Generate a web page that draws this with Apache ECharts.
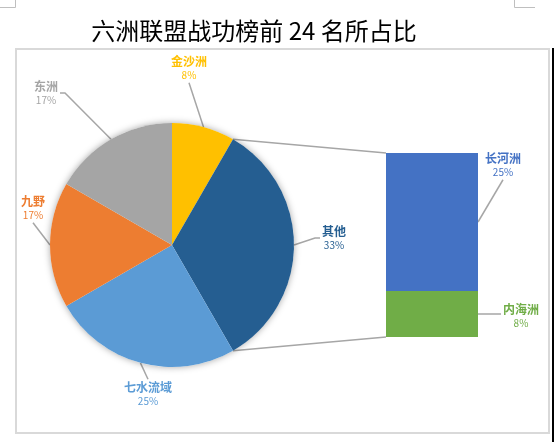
<!DOCTYPE html>
<html><head><meta charset="utf-8">
<script src="https://cdn.jsdelivr.net/npm/echarts@6/dist/echarts.min.js"></script>
<style>html,body{margin:0;padding:0;background:#fff;overflow:hidden}#c{width:554px;height:442px}</style>
</head><body><div id="c"></div>
<script>
const chartTitle = '六洲联盟战功榜前 24 名所占比';
const pieNames = ['金沙洲', '其他', '七水流域', '九野', '东洲'];
const pieValues = [2, 8, 6, 4, 4];
const pieColors = ['#FFC000', '#255E91', '#5B9BD5', '#ED7D31', '#A5A5A5'];
const barNames = ['长河洲', '内海洲'];
const barValues = [6, 2];
const barColors = ['#4472C4', '#70AD47'];
const total = pieValues.reduce((a, b) => a + b, 0);

const FONT = '"Noto Sans CJK SC", "Noto Sans", sans-serif';
const pieCenter = [172, 245], pieRadius = 122;
const guideColor = '#A6A6A6';
const pieLabelPlace = [
  {x: 189, y: 68, side: 'bottom'},
  {x: 334, y: 238, side: 'left'},
  {x: 148, y: 394, side: 'top'},
  {x: 33, y: 208, side: 'bottom'},
  {x: 46, y: 93, side: 'right'}
];
const barLabelPlace = [
  {x: 503, y: 165, side: 'bottom'},
  {x: 521, y: 316, side: 'left'}
];
const pct = v => Math.round(v / total * 100) + '%';
const rich = {
  n: {fontFamily: FONT, fontSize: 12, fontWeight: 'bold', lineHeight: 15},
  v: {fontFamily: FONT, fontSize: 10, lineHeight: 14}
};
function anchorOf(place, w, h, gap) {
  switch (place.side) {
    case 'bottom': return [place.x, place.y + h / 2 + gap];
    case 'top': return [place.x, place.y - h / 2 - gap];
    case 'left': return [place.x - w / 2 - gap, place.y];
    default: return [place.x + w / 2 + gap, place.y];
  }
}
const barGeom = {};

const chart = echarts.init(document.getElementById('c'), null, {renderer: 'canvas'});

const barSeries = barNames.map((n, i) => ({
  type: 'bar', name: n, stack: 'other', barWidth: '100%',
  data: [barValues[i]],
  itemStyle: {color: barColors[i]},
  label: {show: true, position: 'right', color: barColors[i], rich: rich,
    formatter: p => '{n|' + p.seriesName + '}\n{v|' + pct(p.value) + '}'},
  labelLayout: p => {
    const place = barLabelPlace[i];
    barGeom[i] = {rect: p.rect, w: p.labelRect.width, h: p.labelRect.height};
    return {x: place.x, y: place.y, align: 'center', verticalAlign: 'middle'};
  }
})).reverse();

const option = {
  animation: false,
  backgroundColor: '#fff',
  title: {text: chartTitle, left: 249, top: 14, textAlign: 'center',
    textStyle: {fontFamily: FONT, fontSize: 24, fontWeight: 'normal', color: '#000'}},
  grid: {left: 386, top: 153, width: 92, height: 184},
  xAxis: {type: 'category', data: ['other'], show: false},
  yAxis: {type: 'value', min: 0, max: barValues.reduce((a, b) => a + b, 0), show: false},
  series: [
    {type: 'pie', center: pieCenter, radius: pieRadius, silent: true, label: {show: false},
     data: [{value: 1, itemStyle: {color: '#fff', shadowBlur: 7, shadowColor: 'rgba(0,0,0,0.35)'}}]},
    {
      type: 'pie', center: pieCenter, radius: pieRadius, startAngle: 90, clockwise: true,
      avoidLabelOverlap: false,
      data: pieNames.map((n, i) => ({name: n, value: pieValues[i],
        itemStyle: {color: pieColors[i]}, label: {color: pieColors[i]}})),
      label: {show: true, position: 'outside', rich: rich,
        formatter: p => '{n|' + p.name + '}\n{v|' + pct(p.value) + '}'},
      labelLine: {show: true, length: 10, length2: 5, lineStyle: {color: guideColor, width: 1.5}},
      labelLayout: p => {
        const place = pieLabelPlace[p.dataIndex];
        const end = anchorOf(place, p.labelRect.width, p.labelRect.height, 2);
        let start = p.labelLinePoints && p.labelLinePoints[0];
        if (!start) {
          let before = 0;
          for (let k = 0; k < p.dataIndex; k++) before += pieValues[k];
          const a = (before + pieValues[p.dataIndex] / 2) / total * 2 * Math.PI;
          start = [pieCenter[0] + pieRadius * Math.sin(a), pieCenter[1] - pieRadius * Math.cos(a)];
        }
        let mid = end;
        if (place.side === 'left') mid = [end[0] - 5, end[1]];
        if (place.side === 'right') mid = [end[0] + 5, end[1]];
        return {x: place.x, y: place.y, align: 'center', verticalAlign: 'middle',
          labelLinePoints: [start, mid, end]};
      }
    }
  ].concat(barSeries)
};
chart.setOption(option);

function piePoint(frac) {
  const a = frac * 2 * Math.PI;
  return [pieCenter[0] + pieRadius * Math.sin(a), pieCenter[1] - pieRadius * Math.cos(a)];
}
const pA = piePoint(pieValues[0] / total);
const pB = piePoint((pieValues[0] + pieValues[1]) / total);
const topRect = barGeom[0].rect, botRect = barGeom[1].rect;
const barTopLeft = [topRect.x, Math.min(topRect.y, topRect.y + topRect.height)];
const barBotLeft = [botRect.x, Math.max(botRect.y, botRect.y + botRect.height)];
const lineStyle = {stroke: guideColor, lineWidth: 1.5};
const graphics = [
  {type: 'rect', shape: {x: 16, y: 49, width: 533, height: 384}, style: {fill: 'none', stroke: '#D9D9D9', lineWidth: 2}, z: -1},
  {type: 'rect', shape: {x: 552, y: 48, width: 2, height: 394}, style: {fill: '#000'}},
  {type: 'polyline', shape: {points: [[0, 7.5], [15.5, 7.5], [15.5, 0]]}, style: {fill: 'none', stroke: '#BFBFBF', lineWidth: 1}},
  {type: 'polyline', shape: {points: [[514.5, 0], [514.5, 7.5], [535, 7.5]]}, style: {fill: 'none', stroke: '#BFBFBF', lineWidth: 1}},
  {type: 'line', shape: {x1: pA[0], y1: pA[1], x2: barTopLeft[0], y2: barTopLeft[1]}, style: lineStyle},
  {type: 'line', shape: {x1: pB[0], y1: pB[1], x2: barBotLeft[0], y2: barBotLeft[1]}, style: lineStyle}
];
barNames.forEach((n, i) => {
  const g = barGeom[i];
  const r = g.rect;
  const start = [r.x + r.width, r.y + r.height / 2];
  const end = anchorOf(barLabelPlace[i], g.w, g.h, 2);
  let pts = [start, end];
  if (barLabelPlace[i].side === 'left') pts = [start, [end[0], start[1]]];
  graphics.push({type: 'polyline', shape: {points: pts}, style: Object.assign({fill: 'none'}, lineStyle)});
});
chart.setOption({graphic: graphics});
</script></body></html>
